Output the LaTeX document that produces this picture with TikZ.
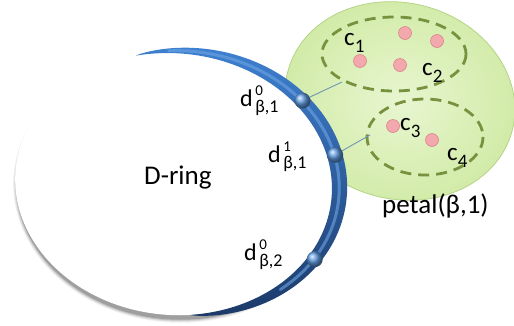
\documentclass[tikz,border=0pt]{standalone}
\usepackage{fontspec}
\setmainfont{Carlito}
\definecolor{petalin}{RGB}{232,246,208}
\definecolor{petalout}{RGB}{208,234,165}
\definecolor{petaledge}{RGB}{180,212,135}
\definecolor{dashgreen}{RGB}{118,146,62}
\definecolor{ringtop}{RGB}{62,128,208}
\definecolor{ringblue}{RGB}{50,110,190}
\definecolor{ringdark}{RGB}{28,58,105}
\definecolor{ringlight}{RGB}{110,165,228}
\definecolor{dotblue}{RGB}{96,156,226}
\definecolor{dotpink}{RGB}{243,168,174}
\definecolor{dotpinkedge}{RGB}{214,122,130}
\definecolor{connline}{RGB}{112,150,178}
\newcommand\lowsub[1]{\raisebox{-7pt}{\fontsize{19}{19}\selectfont #1}}
\newcommand\dlabel[2]{d\hspace{2.5pt}\rlap{\raisebox{10.5pt}{\fontsize{15}{15}\selectfont #1}}\raisebox{-6pt}{\fontsize{18}{18}\selectfont #2}}
\tikzset{
  txt/.style={inner sep=0pt, anchor=base west, font=\fontsize{24}{24}\selectfont},
  ctxt/.style={inner sep=0pt, anchor=base west, font=\fontsize{25}{25}\selectfont},
  bigtxt/.style={inner sep=0pt, anchor=base west, font=\fontsize{27}{27}\selectfont},
  cluster/.style={draw=dashgreen, line width=2.8pt, dash pattern=on 11pt off 7pt},
  member/.style={circle, inner sep=0pt, minimum size=13pt, fill=dotpink, draw=dotpinkedge, line width=0.5pt},
  ringdot/.style={circle, inner sep=0pt, minimum size=16pt, ball color=dotblue},
  conn/.style={draw=connline, line width=0.9pt},
  % band of the ring: width profile along the ellipse (parametric angle)
  declare function={
    bs(\u)=max(sin((\u+80)*0.9574),0);
    bw(\u)=14.5*sqrt(bs(\u)*sqrt(bs(\u)));
    nrm(\u)=sqrt(cos(\u)^2+1.473*sin(\u)^2);
    ox(\u,\f)=159*cos(\u)+\f*bw(\u)*cos(\u)/nrm(\u);
    oy(\u,\f)=131*sin(\u)+\f*bw(\u)*1.2137*sin(\u)/nrm(\u);
  },
}
\begin{document}
\begin{tikzpicture}[x=1pt,y=-1pt]
\useasboundingbox (0,0) rectangle (514,325);

% petal
\begin{scope}[shift={(400,101)}, rotate=-15]
  \shadedraw[inner color=petalin, outer color=petalout, draw=petaledge, line width=0.8pt]
    (0,0) ellipse [x radius=116, y radius=98];
\end{scope}

% soft shadow under the ring
\begin{scope}[shift={(175,188.5)}, rotate=-5]
  \foreach \s/\op in {3/0.06,2/0.08,1/0.12,0/0.18}
    \fill[black, opacity=\op] (0,0) ellipse [x radius=159+\s, y radius=131+\s];
\end{scope}

\begin{scope}[shift={(174,184)}, rotate=-5]
  % D-ring body
  \fill[white] (0,0) ellipse [x radius=159, y radius=131];
  % blue band along its right side
  \shade[top color=ringtop, middle color=ringblue, bottom color=ringdark]
    plot[domain=-80:108, samples=130, variable=\t] ({ox(\t,1)}, {-oy(\t,1)})
    -- plot[domain=108:-80, samples=130, variable=\t] ({ox(\t,-0.06)}, {-oy(\t,-0.06)})
    -- cycle;
  \draw[ringlight, opacity=0.6, line width=3pt, line cap=round]
    plot[domain=-45:96, samples=80, variable=\t] ({ox(\t,0.45)}, {-oy(\t,0.45)});
  % points on the band
  \node[ringdot] (d1) at ({ox(43,0.5)}, {-oy(43,0.5)}) {};
  \node[ringdot] (d2) at ({ox(18,0.5)}, {-oy(18,0.5)}) {};
  \node[ringdot] (d3) at ({ox(-27,0.5)}, {-oy(-27,0.5)}) {};
\end{scope}

% clusters
\draw[cluster] (394,54) ellipse [x radius=72, y radius=37];
\draw[cluster] (425,137) ellipse [x radius=58, y radius=38];

% members
\node[member] (m1) at (405,33) {};
\node[member] (m2) at (437,41) {};
\node[member] (m3) at (360,61) {};
\node[member] (m4) at (400,65) {};
\node[member] (m5) at (393,126) {};
\node[member] (m6) at (432,140) {};

% links from the band to the clusters
\coordinate (k1) at (342,82);
\coordinate (k2) at (370,135);
\draw[conn] (d1) -- (k1);
\draw[conn] (d2) -- (k2);

% labels
\node[bigtxt] (ring) at (144,184) {D-ring};
\node[bigtxt] (petal) at (382,213) {petal(β,1)};
\node[txt] (l1) at (240,106) {\dlabel{0}{β,1}};
\node[txt] (l2) at (268,162) {\dlabel{1}{β,1}};
\node[txt] (l3) at (244,260) {\dlabel{0}{β,2}};
\node[ctxt] (c1) at (344,45) {c\lowsub{1}};
\node[ctxt] (c2) at (422,75) {c\lowsub{2}};
\node[ctxt] (c3) at (400,130) {c\lowsub{3}};
\node[ctxt] (c4) at (447,160) {c\lowsub{4}};
\end{tikzpicture}
\end{document}
